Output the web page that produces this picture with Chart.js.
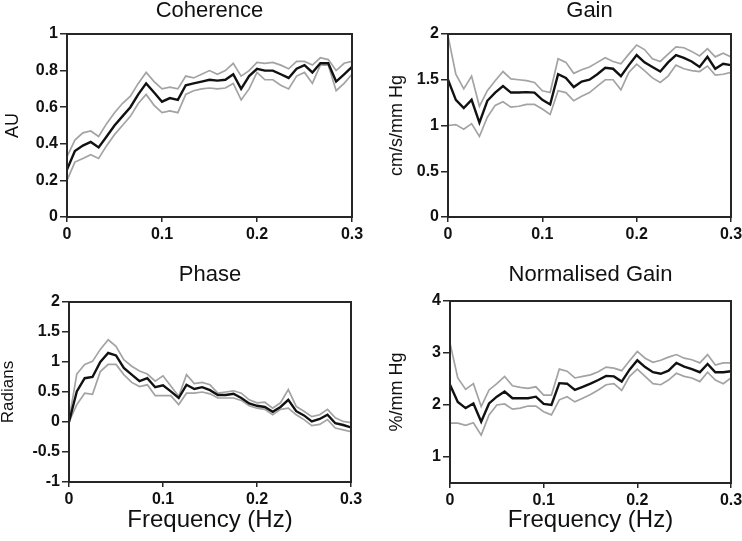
<!DOCTYPE html>
<html>
<head>
<meta charset="utf-8">
<script src="https://cdn.jsdelivr.net/npm/chart.js@4"></script>
<style>
  html, body { margin:0; padding:0; background:#fff; overflow:hidden; width:742px; height:541px; }
  canvas { position:absolute; }
</style>
</head>
<body>
<canvas id="c1"></canvas>
<canvas id="c2"></canvas>
<canvas id="c3"></canvas>
<canvas id="c4"></canvas>
<script>
// ---------- data ----------
const freq = [0,0.0083,0.0167,0.025,0.0333,0.0417,0.05,0.0583,0.0667,0.075,0.0833,0.0917,0.1,0.1083,0.1167,0.125,0.1333,0.1417,0.15,0.1583,0.1667,0.175,0.1833,0.1917,0.2,0.2083,0.2167,0.225,0.2333,0.2417,0.25,0.2583,0.2667,0.275,0.2833,0.2917,0.3];
const xTicks = [0, 0.1, 0.2, 0.3];

const coherenceMean  = [0.26,0.36,0.39,0.41,0.38,0.44,0.50,0.55,0.60,0.67,0.73,0.68,0.63,0.65,0.64,0.72,0.73,0.74,0.75,0.745,0.75,0.78,0.70,0.77,0.81,0.80,0.80,0.78,0.76,0.81,0.83,0.79,0.84,0.84,0.74,0.78,0.82];
const coherenceUpper = [0.33,0.42,0.46,0.47,0.44,0.51,0.57,0.62,0.66,0.73,0.79,0.74,0.70,0.71,0.70,0.77,0.76,0.78,0.80,0.78,0.80,0.84,0.77,0.80,0.845,0.84,0.845,0.83,0.81,0.85,0.85,0.83,0.87,0.86,0.80,0.84,0.85];
const coherenceLower = [0.20,0.30,0.32,0.34,0.32,0.39,0.45,0.50,0.55,0.62,0.67,0.61,0.57,0.58,0.57,0.67,0.69,0.70,0.705,0.70,0.705,0.73,0.64,0.70,0.79,0.75,0.75,0.72,0.70,0.77,0.79,0.73,0.83,0.83,0.69,0.73,0.78];

const gainMean  = [1.50,1.28,1.19,1.28,1.03,1.27,1.36,1.43,1.36,1.36,1.365,1.36,1.28,1.23,1.56,1.52,1.42,1.48,1.50,1.56,1.63,1.62,1.54,1.66,1.77,1.69,1.64,1.59,1.69,1.77,1.74,1.70,1.64,1.75,1.62,1.675,1.66];
const gainUpper = [1.98,1.56,1.40,1.54,1.21,1.38,1.49,1.59,1.51,1.50,1.49,1.47,1.38,1.36,1.73,1.69,1.57,1.61,1.64,1.69,1.74,1.70,1.675,1.78,1.88,1.83,1.73,1.70,1.78,1.86,1.85,1.81,1.76,1.84,1.75,1.79,1.75];
const gainLower = [1.00,1.01,0.96,1.02,0.88,1.09,1.22,1.26,1.20,1.21,1.23,1.23,1.18,1.12,1.38,1.36,1.27,1.32,1.36,1.43,1.50,1.50,1.39,1.58,1.67,1.60,1.52,1.47,1.54,1.66,1.62,1.60,1.59,1.65,1.55,1.56,1.58];

const phaseMean  = [0.0,0.51,0.73,0.75,1.0,1.15,1.11,0.90,0.79,0.68,0.73,0.58,0.61,0.51,0.40,0.62,0.55,0.58,0.53,0.45,0.45,0.47,0.40,0.31,0.27,0.25,0.17,0.25,0.37,0.18,0.11,0.01,0.05,0.12,-0.02,-0.05,-0.09];
const phaseUpper = [0.03,0.80,0.96,1.01,1.21,1.37,1.26,1.04,0.93,0.85,0.80,0.68,0.77,0.60,0.43,0.79,0.64,0.66,0.62,0.48,0.50,0.52,0.48,0.37,0.32,0.33,0.23,0.32,0.54,0.26,0.18,0.09,0.12,0.21,0.07,0.01,-0.01];
const phaseLower = [0.0,0.29,0.48,0.46,0.84,0.96,0.96,0.79,0.66,0.59,0.62,0.44,0.44,0.44,0.29,0.48,0.48,0.50,0.47,0.40,0.40,0.40,0.36,0.27,0.23,0.21,0.12,0.21,0.23,0.12,0.04,-0.06,-0.04,0.04,-0.10,-0.13,-0.16];

const normMean  = [2.39,2.06,1.94,2.03,1.68,2.03,2.16,2.26,2.13,2.13,2.13,2.16,2.02,2.00,2.42,2.41,2.29,2.35,2.41,2.48,2.56,2.55,2.45,2.68,2.86,2.73,2.63,2.60,2.66,2.81,2.74,2.69,2.63,2.79,2.63,2.63,2.65];
const normUpper = [3.19,2.52,2.30,2.41,1.97,2.29,2.41,2.55,2.37,2.34,2.32,2.35,2.19,2.19,2.69,2.65,2.52,2.55,2.58,2.64,2.73,2.71,2.66,2.85,3.03,2.90,2.82,2.86,2.92,2.97,2.90,2.87,2.81,2.97,2.77,2.81,2.81];
const normLower = [1.65,1.65,1.61,1.66,1.42,1.81,2.00,2.02,1.92,1.94,1.98,1.98,1.87,1.81,2.10,2.16,2.06,2.13,2.20,2.29,2.39,2.41,2.28,2.55,2.69,2.55,2.41,2.39,2.48,2.61,2.55,2.52,2.45,2.63,2.48,2.41,2.52];

const coherenceTicks = [0, 0.2, 0.4, 0.6, 0.8, 1];
const gainTicks = [0, 0.5, 1, 1.5, 2];
const phaseTicks = [-1, -0.5, 0, 0.5, 1, 1.5, 2];
const normTicks = [1, 2, 3, 4];

// ---------- rendering ----------
const FONT = "'Liberation Sans', Arial, Helvetica, sans-serif";
const TXT = '#111';
const AX = '#262626';

const boxPlugin = {
  id: 'box',
  afterDatasetsDraw(chart) {
    const a = chart.chartArea, c = chart.ctx;
    c.save();
    c.strokeStyle = AX;
    c.lineWidth = 2;
    c.strokeRect(a.left, a.top, a.right - a.left, a.bottom - a.top);
    c.restore();
  }
};

function pts(ys) { return freq.map((f, i) => ({ x: f, y: ys[i] })); }
const fmt = v => String(Math.round(v * 100) / 100);

function makePanel(p) {
  const cv = document.getElementById(p.id);
  cv.width = p.w; cv.height = p.h;
  cv.style.left = p.left + 'px'; cv.style.top = p.top + 'px';
  cv.style.width = p.w + 'px'; cv.style.height = p.h + 'px';
  const yTickVals = p.yTicks;
  new Chart(cv, {
    type: 'line',
    data: {
      datasets: [
        { data: pts(p.mean),  borderColor: '#111111', borderWidth: 2.4 },
        { data: pts(p.upper), borderColor: '#a3a3a3', borderWidth: 1.7 },
        { data: pts(p.lower), borderColor: '#a3a3a3', borderWidth: 1.7 }
      ].map(d => Object.assign(d, { pointRadius: 0, tension: 0, fill: false }))
    },
    options: {
      responsive: false,
      devicePixelRatio: 1,
      animation: false,
      layout: { padding: { left: 0, right: p.padRight, top: 0, bottom: 0 } },
      plugins: {
        legend: { display: false },
        tooltip: { enabled: false },
        title: {
          display: true, text: p.title, fullSize: false, color: TXT,
          font: { family: FONT, size: 22, weight: 'normal', lineHeight: 1 },
          padding: { top: p.titleTop, bottom: p.titleBottom }
        }
      },
      scales: {
        x: {
          type: 'linear', min: 0, max: 0.3,
          afterBuildTicks: s => { s.ticks = xTicks.map(v => ({ value: v })); },
          afterFit: s => { s.height = p.xAxisH; },
          ticks: { color: TXT, font: { family: FONT, size: 16, weight: 'bold' }, padding: 3, maxRotation: 0, autoSkip: false, callback: fmt },
          grid: { drawOnChartArea: false, tickLength: 5, color: AX, lineWidth: 1.5 },
          border: { display: false },
          title: p.xTitle ? {
            display: true, text: p.xTitle, color: TXT,
            font: { family: FONT, size: 24, weight: 'normal', lineHeight: 1 },
            padding: { top: 0, bottom: p.xTitlePad }
          } : { display: false }
        },
        y: {
          type: 'linear', min: p.yMin, max: p.yMax,
          afterBuildTicks: s => { s.ticks = yTickVals.map(v => ({ value: v })); },
          afterFit: s => { s.width = p.yAxisW; },
          ticks: { color: TXT, font: { family: FONT, size: 16, weight: 'bold' }, padding: 2, autoSkip: false, callback: fmt },
          grid: { drawOnChartArea: false, tickLength: 7, color: AX, lineWidth: 1.5 },
          border: { display: false },
          title: {
            display: true, text: p.yTitle, color: TXT,
            font: { family: FONT, size: p.yTitleSize, weight: 'normal', lineHeight: 1 },
            padding: { top: p.yTitlePad, bottom: 0 }
          }
        }
      }
    },
    plugins: [boxPlugin]
  });
}

makePanel({ id: 'c1', left: 0, top: 0, w: 371, h: 260, padRight: 19,
  title: 'Coherence', titleTop: 0, titleBottom: 12, xAxisH: 43, yAxisW: 67,
  yTitle: 'AU', yTitleSize: 18, yTitlePad: 4, yMin: 0, yMax: 1, yTicks: coherenceTicks,
  mean: coherenceMean, upper: coherenceUpper, lower: coherenceLower });

makePanel({ id: 'c2', left: 371, top: 0, w: 380, h: 260, padRight: 20,
  title: 'Gain', titleTop: 0, titleBottom: 12, xAxisH: 43, yAxisW: 77,
  yTitle: 'cm/s/mm Hg', yTitleSize: 18, yTitlePad: 17.5, yMin: 0, yMax: 2, yTicks: gainTicks,
  mean: gainMean, upper: gainUpper, lower: gainLower });

makePanel({ id: 'c3', left: 0, top: 260, w: 371, h: 281, padRight: 20,
  title: 'Phase', titleTop: 4, titleBottom: 16, xAxisH: 59, yAxisW: 69,
  xTitle: 'Frequency (Hz)', xTitlePad: 9,
  yTitle: 'Radians', yTitleSize: 17, yTitlePad: 0, yMin: -1, yMax: 2, yTicks: phaseTicks,
  mean: phaseMean, upper: phaseUpper, lower: phaseLower });

makePanel({ id: 'c4', left: 371, top: 260, w: 380, h: 281, padRight: 20,
  title: 'Normalised Gain', titleTop: 4, titleBottom: 15, xAxisH: 58, yAxisW: 79,
  xTitle: 'Frequency (Hz)', xTitlePad: 9,
  yTitle: '%/mm Hg', yTitleSize: 18, yTitlePad: 17.5, yMin: 0.5, yMax: 4, yTicks: normTicks,
  mean: normMean, upper: normUpper, lower: normLower });
</script>
</body>
</html>
